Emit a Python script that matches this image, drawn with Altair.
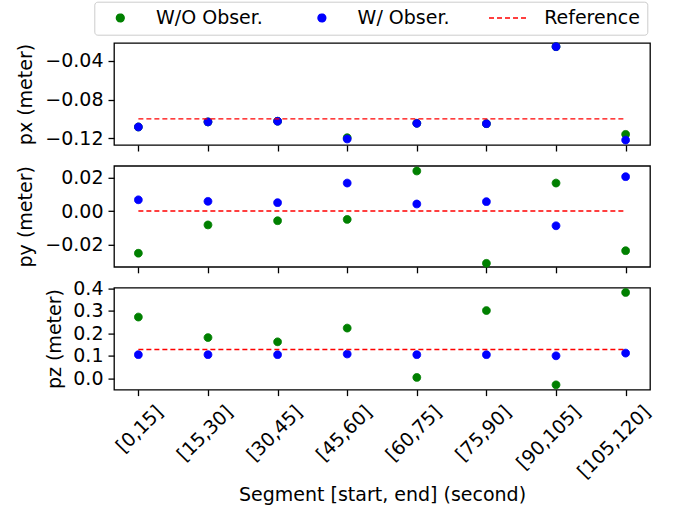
import altair as alt
import pandas as pd

segments = ["[0,15]", "[15,30]", "[30,45]", "[45,60]", "[60,75]", "[75,90]", "[90,105]", "[105,120]"]
series_names = ["W/O Obser.", "W/ Obser.", "Reference"]
series_colors = ["#008000", "#0000ff", "#ff0000"]

px_wo = [-0.1083, -0.1031, -0.1024, -0.1194, -0.1045, -0.1049, -0.0255, -0.1159]
px_w = [-0.1083, -0.1031, -0.1024, -0.1207, -0.1045, -0.1049, -0.0255, -0.1218]
py_wo = [-0.0252, -0.0083, -0.0058, -0.0050, 0.0239, -0.0312, 0.0167, -0.0237]
py_w = [0.0067, 0.0058, 0.0050, 0.0167, 0.0042, 0.0056, -0.0088, 0.0205]
pz_wo = [0.272, 0.181, 0.162, 0.223, 0.004, 0.301, -0.029, 0.381]
pz_w = [0.105, 0.105, 0.105, 0.108, 0.105, 0.105, 0.100, 0.112]
ref_px = -0.100
ref_py = 0.0
ref_pz = 0.128

px_ticks = [-0.12, -0.08, -0.04]
py_ticks = [-0.02, 0.0, 0.02]
pz_ticks = [0.0, 0.1, 0.2, 0.3, 0.4]

FONT = "DejaVu Sans"

# legend handle shapes: a dot and a dash line (handle length ~39px)
DASH = "M-5.03,0L5.03,0"

leg = alt.Legend(
    title=None, orient="none", legendX=-19.7, legendY=-41.3,
    direction="horizontal", columns=3, columnPadding=38.6, labelOffset=26.2,
    symbolOffset=10,
    padding=6.5, clipHeight=19, labelFontSize=19, labelFont=FONT,
    labelColor="black", strokeColor="#cccccc", fillColor="white",
    cornerRadius=3, symbolStrokeWidth=1.4, symbolOpacity=1, symbolSize=60,
)


def points_df(wo, w):
    rows = []
    for s, v in zip(segments, wo):
        rows.append({"segment": s, "series": series_names[0], "value": v})
    for s, v in zip(segments, w):
        rows.append({"segment": s, "series": series_names[1], "value": v})
    return pd.DataFrame(rows)


def panel(wo, w, ref, ytitle, title_x, domain, ticks, fmt, bottom, height):
    xscale = alt.Scale(type="point", domain=segments, padding=0.35)
    if bottom:
        xaxis = alt.Axis(title="Segment [start, end] (second)", labelAngle=-45,
                         labelAlign="right", labelBaseline="middle",
                         labelOffset=21, labelPadding=13, titlePadding=4)
    else:
        xaxis = alt.Axis(title=None, labels=False)
    yscale = alt.Scale(domain=domain, nice=False, zero=False)
    yaxis = alt.Axis(title=ytitle, values=ticks, format=fmt,
                     titleX=title_x, titleY=height / 2,
                     titleBaseline="bottom", titleAlign="center", titleAngle=270)
    pts = alt.Chart(points_df(wo, w)).mark_point(
        filled=True, opacity=1, strokeWidth=1, size=60
    ).encode(
        x=alt.X("segment:N", scale=xscale, axis=xaxis),
        y=alt.Y("value:Q", scale=yscale, axis=yaxis),
        fill=alt.Fill("series:N", scale=alt.Scale(domain=series_names, range=series_colors), legend=leg),
        stroke=alt.Stroke("series:N", scale=alt.Scale(domain=series_names, range=series_colors), legend=leg),
        shape=alt.Shape("series:N", scale=alt.Scale(domain=series_names, range=["circle", "circle", DASH]), legend=leg),
        strokeDash=alt.StrokeDash("series:N", scale=alt.Scale(domain=series_names, range=[[1, 0], [1, 0], [5, 3]]), legend=leg),
    )
    ref_df = pd.DataFrame({"start": [segments[0]], "end": [segments[-1]], "value": [ref]})
    rule = alt.Chart(ref_df).mark_rule(color="#ff0000", strokeDash=[5, 3], strokeWidth=1.4).encode(
        x=alt.X("start:N", scale=xscale, axis=xaxis),
        x2="end:N",
        y=alt.Y("value:Q", scale=yscale, axis=yaxis),
    )
    return alt.layer(pts, rule).properties(width=536, height=height)


p1 = panel(px_wo, px_w, ref_px, "px (meter)", -79, [-0.1269, -0.0217], px_ticks, ".2f", False, 102)
p2 = panel(py_wo, py_w, ref_py, "py (meter)", -79, [-0.0333, 0.0270], py_ticks, ".2f", False, 101)
p3 = panel(pz_wo, pz_w, ref_pz, "pz (meter)", -50, [-0.050, 0.4027], pz_ticks, ".1f", True, 102)

chart = alt.vconcat(p1, p2, p3, spacing=20.8, bounds="flush").properties(
    padding={"left": 15, "top": 1, "right": 5, "bottom": 5},
    background="white",
).configure_axis(
    labelFont=FONT, labelFontSize=19, labelColor="black",
    titleFont=FONT, titleFontSize=19, titleFontWeight="normal", titleColor="black",
    tickColor="black", tickSize=6, tickWidth=1.3, domain=False, grid=False,
    labelPadding=5, titlePadding=8,
).configure_view(
    stroke="black", strokeWidth=1.3,
)

chart.save("out.html", embed_options={"renderer": "svg", "actions": False})
